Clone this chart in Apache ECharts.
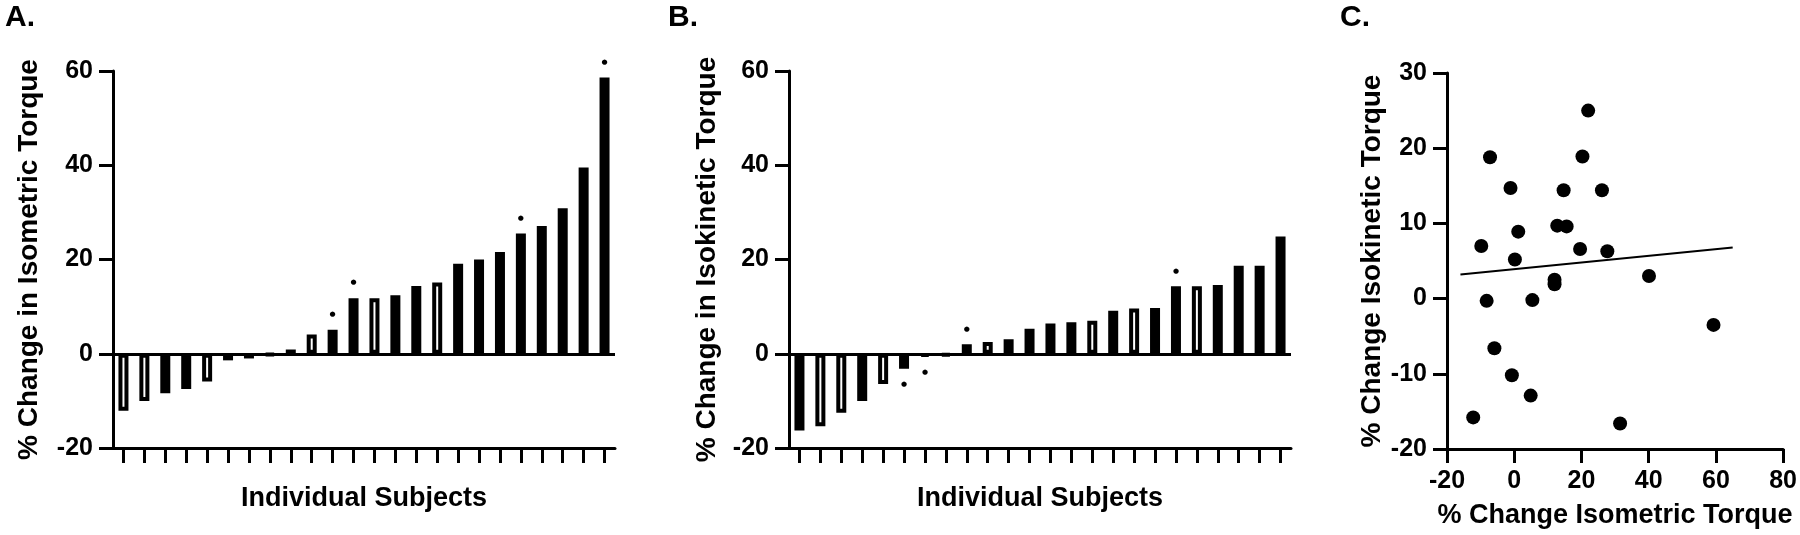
<!DOCTYPE html>
<html><head><meta charset="utf-8">
<script src="https://cdn.jsdelivr.net/npm/echarts@6/dist/echarts.min.js"></script>
<style>html,body{margin:0;padding:0;background:#fff}#c{width:1800px;height:535px}</style>
</head><body><div id="c"></div>
<script>
// ---- data ----
const subjects = ['1','2','3','4','5','6','7','8','9','10','11','12','13','14','15','16','17','18','19','20','21','22','23','24'];
const isometricChange = [-12.1, -10.0, -8.4, -7.5, -5.9, -1.4, -1.0, -0.3, 0.9, 4.1, 5.1, 11.8, 11.8, 12.4, 14.4, 15.1, 19.1, 20.0, 21.6, 25.5, 27.1, 30.9, 39.5, 58.6];
const isometricOpen = [1,1,0,0,1,1,0,0,0,1,0,0,1,0,0,1,0,0,0,0,0,0,0,0];
const isometricMarked = [10, 11, 19, 23];
const isokineticChange = [-16.3, -15.4, -12.5, -10.0, -6.4, -3.2, -0.5, -0.4, 2.0, 2.5, 3.1, 5.3, 6.4, 6.7, 7.0, 9.1, 9.6, 9.7, 14.3, 14.3, 14.6, 18.7, 18.7, 24.9];
const isokineticOpen = [0,1,1,0,1,0,0,0,0,1,0,0,0,0,1,0,1,0,0,1,0,0,0,0];
const isokineticMarked = [5, 6, 8, 18];
const scatterIsometric = [-12.2, -7.2, -9.8, -8.2, -5.9, -1.1, -0.7, 0.2, 1.2, 4.9, 5.4, 12.0, 12.0, 12.8, 15.6, 14.7, 19.6, 20.3, 22.0, 26.1, 27.7, 31.5, 40.1, 59.3];
const scatterIsokinetic = [-15.8, 18.8, 7.0, -0.3, -6.6, 14.7, -10.2, 5.2, 8.9, -12.9, -0.2, 2.5, 1.9, 9.7, 9.6, 14.4, 6.6, 18.9, 25.0, 14.4, 6.3, -16.6, 3.0, -3.5];
const fitLineX = [-16, 65];
const fitLineY = [3.2, 6.8];
const barTicks = [-20, 0, 20, 40, 60];
const scatterXTicks = [-20, 0, 20, 40, 60, 80];
const scatterYTicks = [-20, -10, 0, 10, 20, 30];

// ---- styling ----
const FONT = '"Liberation Sans", Arial, sans-serif';
const BLACK = '#000';

function barItems(values, open, marked) {
  return values.map((v, i) => ({
    value: v,
    itemStyle: {
      color: open[i] ? '#fff' : BLACK,
      borderColor: BLACK,
      borderWidth: 4
    },
    label: {
      show: marked.indexOf(i) >= 0,
      position: v >= 0 ? 'top' : 'bottom',
      distance: 12,
      formatter: '\u25CF',
      fontFamily: 'DejaVu Sans',
      fontSize: 7,
      color: BLACK
    }
  }));
}

function valueAxisCommon(ticks) {
  return {
    type: 'value',
    min: ticks[0],
    max: ticks[ticks.length - 1],
    interval: ticks[1] - ticks[0],
    splitLine: { show: false },
    axisLine: { show: true, onZero: false, lineStyle: { color: BLACK, width: 3 } },
    axisTick: { show: true, length: 14, lineStyle: { color: BLACK, width: 3 } },
    axisLabel: { color: BLACK, fontFamily: FONT, fontWeight: 'bold', fontSize: 25, margin: 20 },
    nameLocation: 'middle',
    nameTextStyle: { color: BLACK, fontFamily: FONT, fontWeight: 'bold', fontSize: 28 }
  };
}

function catAxis(gridIndex) {
  return {
    type: 'category',
    gridIndex: gridIndex,
    data: subjects,
    axisLine: { show: true, onZero: false, lineStyle: { color: BLACK, width: 3 } },
    axisTick: { show: true, alignWithLabel: true, length: 15, lineStyle: { color: BLACK, width: 3 } },
    axisLabel: { show: false },
    name: 'Individual Subjects',
    nameLocation: 'middle',
    nameGap: 37,
    nameTextStyle: { color: BLACK, fontFamily: FONT, fontWeight: 'bold', fontSize: 27 }
  };
}

const zeroLine = {
  silent: true,
  symbol: 'none',
  label: { show: false },
  lineStyle: { color: BLACK, width: 3, type: 'solid' },
  data: [{ yAxis: 0 }]
};

const titleStyle = { fontFamily: FONT, fontWeight: 'bold', fontSize: 30, color: BLACK };

const option = {
  backgroundColor: '#fff',
  animation: false,
  title: [
    { text: 'A.', left: 0, top: -2, textStyle: titleStyle },
    { text: 'B.', left: 663, top: -2, textStyle: titleStyle },
    { text: 'C.', left: 1335, top: -2, textStyle: titleStyle }
  ],
  grid: [
    { left: 113, top: 71, width: 502, height: 377 },
    { left: 789, top: 71, width: 502, height: 377 },
    { left: 1447, top: 73, width: 339, height: 376 }
  ],
  xAxis: [
    catAxis(0),
    catAxis(1),
    Object.assign(valueAxisCommon(scatterXTicks), {
      gridIndex: 2, name: '% Change Isometric Torque', nameGap: 53,
      nameTextStyle: { color: BLACK, fontFamily: FONT, fontWeight: 'bold', fontSize: 27 }
    })
  ],
  yAxis: [
    Object.assign(valueAxisCommon(barTicks), { gridIndex: 0, name: '% Change in Isometric Torque', nameGap: 70 }),
    Object.assign(valueAxisCommon(barTicks), { gridIndex: 1, name: '% Change in Isokinetic Torque', nameGap: 68 }),
    Object.assign(valueAxisCommon(scatterYTicks), { gridIndex: 2, name: '% Change Isokinetic Torque', nameGap: 61 })
  ],
  series: [
    {
      type: 'bar', xAxisIndex: 0, yAxisIndex: 0, barWidth: 10,
      data: barItems(isometricChange, isometricOpen, isometricMarked),
      markLine: zeroLine
    },
    {
      type: 'bar', xAxisIndex: 1, yAxisIndex: 1, barWidth: 10,
      data: barItems(isokineticChange, isokineticOpen, isokineticMarked),
      markLine: zeroLine
    },
    {
      type: 'scatter', xAxisIndex: 2, yAxisIndex: 2, symbolSize: 14,
      itemStyle: { color: BLACK, opacity: 1 },
      data: scatterIsometric.map((x, i) => [x, scatterIsokinetic[i]])
    },
    {
      type: 'line', xAxisIndex: 2, yAxisIndex: 2, symbol: 'none',
      lineStyle: { color: BLACK, width: 2 },
      data: fitLineX.map((x, i) => [x, fitLineY[i]])
    }
  ]
};

const chart = echarts.init(document.getElementById('c'), null, { renderer: 'canvas' });
chart.setOption(option);
</script>
</body></html>
